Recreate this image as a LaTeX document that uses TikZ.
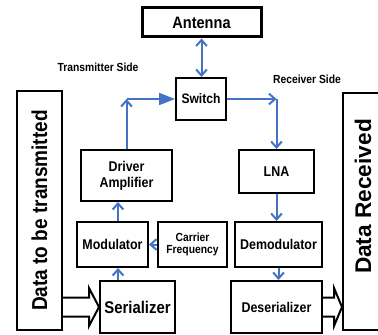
\documentclass[tikz,border=0pt]{standalone}
\usepackage{fontspec}
\setmainfont{Liberation Sans}
\usetikzlibrary{arrows.meta,calc}
\definecolor{arrblue}{RGB}{68,114,196}
\newcommand{\cz}[1]{\scalebox{0.88}[1]{#1}}
\begin{document}
\begin{tikzpicture}[x=0.75pt,y=-0.75pt,
  bx/.style 2 args={draw=black,line width=1.5pt,minimum width=#1*0.75pt,minimum height=#2*0.75pt,inner sep=0pt,align=center},
  fmid/.style={font=\bfseries\fontsize{10.6pt}{12pt}\selectfont},
  fsmall/.style={font=\bfseries\fontsize{8.8pt}{9.5pt}\selectfont},
  link/.style={draw=arrblue,line width=1.5pt},
  barb/.style={link,-{Straight Barb[length=4.5pt,width=8pt]}},
  tri/.style={link,-{Triangle[length=12pt,width=9pt]}},
  hollow/.style={draw=black,line width=1.5pt,line join=miter}
]
\useasboundingbox (0,0) rectangle (378,335);
\clip (0,0) rectangle (378,335);
\fill[white] (0,0) rectangle (378,335);

% nodes
\node[bx={119}{29},line width=2.25pt,font=\bfseries\fontsize{12.4pt}{14pt}\selectfont] (ant) at (201.5,22.5) {\cz{Antenna}};
\node[bx={50}{42},font=\bfseries\fontsize{10.3pt}{12pt}\selectfont] (sw) at (201,99) {\cz{Switch}};
\node[bx={45}{239},font=\bfseries\fontsize{16.2pt}{18pt}\selectfont] (dtx) at (39.5,210.5) {\rotatebox{90}{\cz{Data to be transmitted}}};
\node[bx={91}{51},fmid] (drv) at (126.5,175.5) {\cz{Driver}\\\cz{Amplifier}};
\node[bx={71}{45},fmid] (mod) at (112.5,244.5) {\cz{Modulator}};
\node[bx={69}{45},fsmall] (car) at (192.5,244.5) {\cz{Carrier}\\\cz{Frequency}};
\node[bx={75}{52},font=\bfseries\fontsize{12.7pt}{14pt}\selectfont] (ser) at (137.5,307) {\cz{Serializer}};
\node[bx={75}{43},fmid] (lna) at (276.5,171.5) {\cz{LNA}};
\node[bx={87}{45},fmid] (dem) at (278.5,244.5) {\cz{Demodulator}};
\node[bx={91}{52},fmid] (des) at (276.5,307) {\cz{Deserializer}};
\node[bx={40}{237}] (drx) at (363,211.5) {};
\node[font=\bfseries\fontsize{17pt}{19pt}\selectfont] (drxt) at (363,196.5) {\rotatebox{90}{Data Received}};
\node[fsmall] (txs) at (98,67) {\cz{Transmitter Side}};
\node[fsmall] (rxs) at (307,79) {\cz{Receiver Side}};

% blue connectors
\draw[link,{Straight Barb[length=4.5pt,width=8pt]}-{Straight Barb[length=4.5pt,width=8pt]}] (ant.south) -- (ant.south |- sw.north);
\coordinate (c1) at (drv.north |- sw.west);
\draw[barb] (drv.north) -- (c1);
\draw[tri] (c1) -- (sw.west);
\coordinate (c2) at (lna.north |- sw.east);
\draw[barb] (sw.east) -- (c2);
\draw[barb] (c2) -- (lna.north);
\draw[barb] (lna.south) -- (lna.south |- dem.north);
\draw[barb] (dem.south) -- (dem.south |- des.north);
\draw[barb] (car.west) -- (mod.east);
\coordinate (m1) at ($(mod.north)+(5.5,0)$);
\draw[barb] (m1) -- (m1 |- drv.south);
\coordinate (m2) at ($(mod.south)+(5.5,0)$);
\draw[barb] (m2 |- ser.north) -- (m2);

% hollow block arrows
\coordinate (h1) at (dtx.east |- ser.west);
\draw[hollow] ($(h1)+(0,-9.5)$) -- ($(ser.west)+(-10,-9.5)$) -- ($(ser.west)+(-10,-19)$) -- (ser.west) -- ($(ser.west)+(-10,19)$) -- ($(ser.west)+(-10,9.5)$) -- ($(h1)+(0,9.5)$);
\coordinate (h2) at (drx.west |- des.east);
\draw[hollow] ($(des.east)+(0,-9.5)$) -- ($(h2)+(-8,-9.5)$) -- ($(h2)+(-8,-19)$) -- (h2) -- ($(h2)+(-8,19)$) -- ($(h2)+(-8,9.5)$) -- ($(des.east)+(0,9.5)$);
\end{tikzpicture}
\end{document}
